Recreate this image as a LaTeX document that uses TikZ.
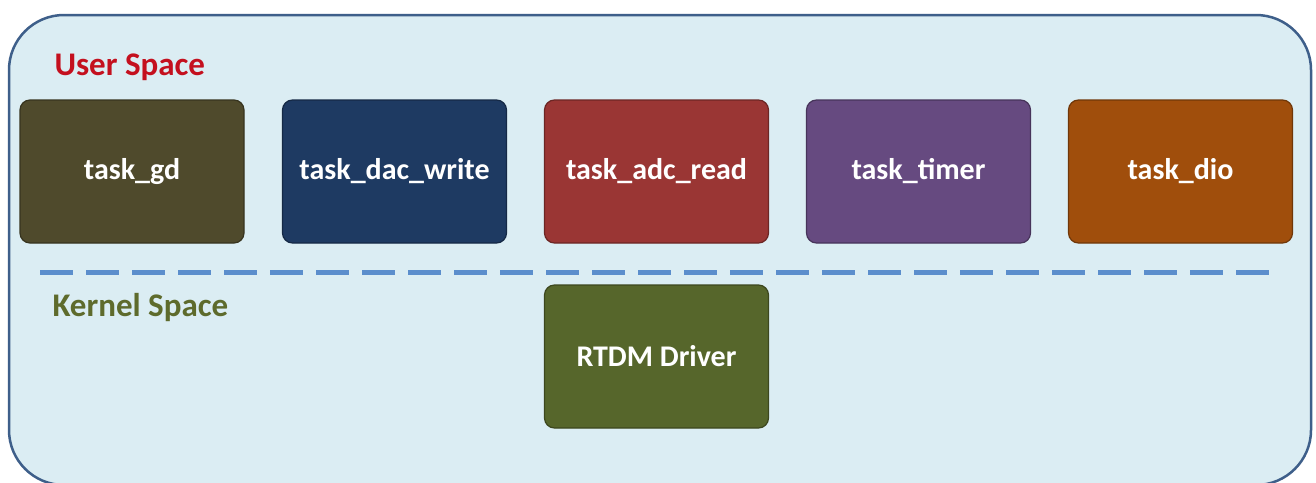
\documentclass[tikz,border=0pt]{standalone}
\usepackage{fontspec}
\setsansfont{Carlito}
\usepackage{tikz}
\definecolor{PanelFill}{HTML}{DBEDF3}
\definecolor{PanelLine}{HTML}{3E5F8A}
\definecolor{SplitBlue}{HTML}{5B8ECC}
\definecolor{UserRed}{HTML}{C4101E}
\definecolor{KernelGreen}{HTML}{5E6B2C}
\definecolor{GdOlive}{HTML}{4F4A2C}
\definecolor{DacNavy}{HTML}{1E3A62}
\definecolor{AdcRed}{HTML}{9A3634}
\definecolor{TimerPurple}{HTML}{664A80}
\definecolor{DioOrange}{HTML}{A04E0C}
\definecolor{RtdmGreen}{HTML}{56662B}

\begin{document}
\begin{tikzpicture}[x=1pt, y=-1pt,
  every node/.style={font=\sffamily\bfseries},
  spacelabel/.style={anchor=west, font=\sffamily\bfseries\fontsize{33}{36}\selectfont},
  taskbox/.style={rounded corners=10pt, minimum width=224pt,
    minimum height=143pt, text=white, font=\sffamily\bfseries\fontsize{30}{33}\selectfont,
    draw=#1!70!black, line width=1.2pt, fill=#1}]
  \clip (0,0) rectangle (1316,482);
  \fill[white] (0,0) rectangle (1316,482);
  \draw[PanelLine, line width=2.5pt, fill=PanelFill, rounded corners=55pt]
  (9,15) rectangle (1311,485);

  \node[spacelabel, text=UserRed] (user) at (51,67) {User Space};
  \node[spacelabel, text=KernelGreen] (kernel) at (49,308) {Kernel Space};

  \coordinate (splitL) at (40,272);
  \coordinate (splitR) at (1270,272);
  \draw[SplitBlue, line width=5pt, dash pattern=on 33pt off 13pt] (splitL) -- (splitR);

  \node[taskbox=GdOlive] (gd) at (132,171.5) {task\_gd};
  \node[taskbox=DacNavy] (dac) at (394.5,171.5) {task\_dac\_write};
  \node[taskbox=AdcRed] (adc) at (656.5,171.5) {task\_adc\_read};
  \node[taskbox=TimerPurple] (timer) at (918.5,171.5) {task\_timer};
  \node[taskbox=DioOrange] (dio) at (1180.5,171.5) {task\_dio};
  \node[taskbox=RtdmGreen] (rtdm) at (656.5,356.5) {RTDM Driver};
\end{tikzpicture}
\end{document}
